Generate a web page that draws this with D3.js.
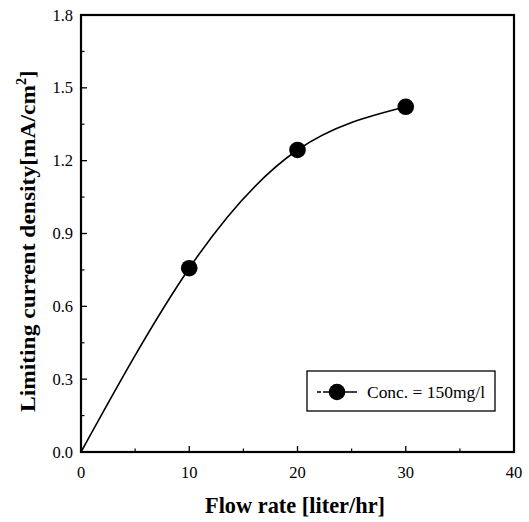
<!DOCTYPE html>
<html><head><meta charset="utf-8">
<script src="https://cdn.jsdelivr.net/npm/d3@7/dist/d3.min.js"></script>
<style>body{margin:0;background:#fff}svg{display:block}
.sf{font-family:"Liberation Serif","Tinos","Times New Roman","DejaVu Serif",serif}</style>
</head><body>
<svg id="c" width="529" height="522"></svg>
<script>
const flowRate = [10, 20, 30];
const currentDensity = [0.757, 1.244, 1.422];
const curveX = [0, 10, 20, 30];
const curveY = [0, 0.757, 1.244, 1.422];
const xTicks = [0, 10, 20, 30, 40];
const yTicks = [0.0, 0.3, 0.6, 0.9, 1.2, 1.5, 1.8];
const legendLabel = "Conc. = 150mg/l";

const svg = d3.select("#c");
const L = 81, R = 514, T = 15, B = 452;
const x = d3.scaleLinear().domain([0, 40]).range([L, R]);
const y = d3.scaleLinear().domain([0, 1.8]).range([B, T]);

// minor ticks
const xMinor = d3.range(5, 40, 10);
const yMinor = d3.range(0.15, 1.8, 0.3);
const g = svg.append("g");
g.selectAll(".xt").data(xTicks.slice(1, -1)).join("line")
  .attr("x1", d => x(d)).attr("x2", d => x(d)).attr("y1", B).attr("y2", B - 6)
  .attr("stroke", "#000").attr("stroke-width", 1.3);
g.selectAll(".xm").data(xMinor).join("line")
  .attr("x1", d => x(d)).attr("x2", d => x(d)).attr("y1", B).attr("y2", B - 3.5)
  .attr("stroke", "#000").attr("stroke-width", 1.2);
g.selectAll(".yt").data(yTicks.slice(1, -1)).join("line")
  .attr("x1", L).attr("x2", L + 6).attr("y1", d => y(d)).attr("y2", d => y(d))
  .attr("stroke", "#000").attr("stroke-width", 1.3);
g.selectAll(".ym").data(yMinor).join("line")
  .attr("x1", L).attr("x2", L + 3.5).attr("y1", d => y(d)).attr("y2", d => y(d))
  .attr("stroke", "#000").attr("stroke-width", 1.2);

// frame
svg.append("rect").attr("x", L).attr("y", T).attr("width", R - L).attr("height", B - T)
  .attr("fill", "none").attr("stroke", "#000").attr("stroke-width", 2.2);

// tick labels
svg.selectAll(".xl").data(xTicks).join("text").attr("class", "sf")
  .attr("x", d => x(d)).attr("y", 478).attr("text-anchor", "middle")
  .attr("font-size", 16.5).text(d => d);
svg.selectAll(".yl").data(yTicks).join("text").attr("class", "sf")
  .attr("x", 73).attr("y", d => y(d) + 5.5).attr("text-anchor", "end")
  .attr("font-size", 16.5).text(d => d.toFixed(1));

// axis titles
svg.append("text").attr("class", "sf").attr("x", 295).attr("y", 513).attr("text-anchor", "middle")
  .attr("font-weight", "bold").attr("font-size", 24)
  .attr("textLength", 180).attr("lengthAdjust", "spacingAndGlyphs")
  .text("Flow rate [liter/hr]");
const yt = svg.append("text").attr("class", "sf").attr("transform", "translate(35,412) rotate(-90)")
  .attr("text-anchor", "start").attr("font-weight", "bold").attr("font-size", 22);
yt.append("tspan").attr("textLength", 327).attr("lengthAdjust", "spacingAndGlyphs")
  .text("Limiting current density[mA/cm");
yt.append("tspan").attr("dy", -9).attr("font-size", 14).text("2");
yt.append("tspan").attr("dy", 9).text("]");

// curve
const pts = curveX.map((d, i) => [d, curveY[i]]);
svg.append("path").datum(pts)
  .attr("d", d3.line().x(d => x(d[0])).y(d => y(d[1])).curve(d3.curveNatural))
  .attr("fill", "none").attr("stroke", "#000").attr("stroke-width", 1.6);

svg.selectAll(".pt").data(flowRate).join("circle")
  .attr("cx", d => x(d)).attr("cy", (d, i) => y(currentDensity[i])).attr("r", 8.3)
  .attr("fill", "#000");

// legend
svg.append("rect").attr("x", 307).attr("y", 371).attr("width", 188).attr("height", 40)
  .attr("fill", "#fff").attr("stroke", "#000").attr("stroke-width", 1.3);
svg.append("line").attr("x1", 317).attr("x2", 357).attr("y1", 392).attr("y2", 392)
  .attr("stroke", "#000").attr("stroke-width", 1.5).attr("stroke-dasharray", "4,2,34");
svg.append("circle").attr("cx", 337).attr("cy", 392).attr("r", 8.3).attr("fill", "#000");
svg.append("text").attr("class", "sf").attr("x", 367).attr("y", 398).attr("font-size", 17)
  .attr("textLength", 118).attr("lengthAdjust", "spacingAndGlyphs")
  .text(legendLabel);
</script>
</body></html>
